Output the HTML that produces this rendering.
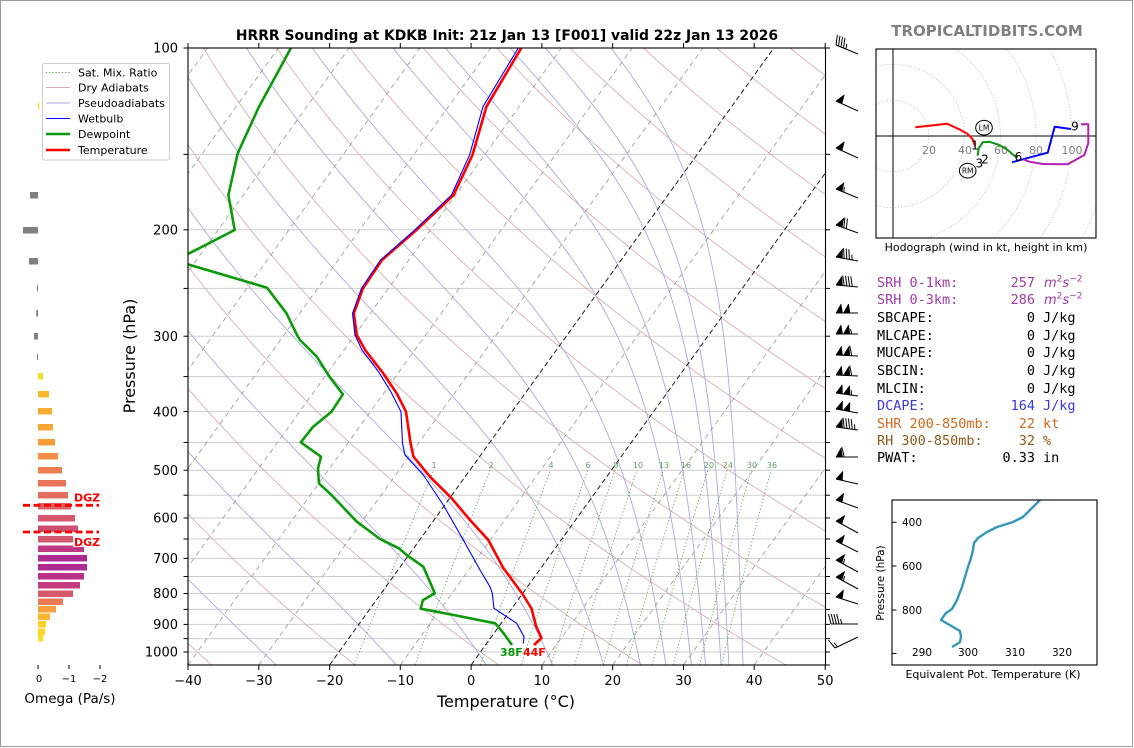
<!DOCTYPE html>
<html>
<head>
<meta charset="utf-8">
<style>
html,body{margin:0;padding:0;background:#fff;}
body{width:1134px;height:748px;overflow:hidden;}
svg{display:block;}
text{font-family:"DejaVu Sans","Liberation Sans",sans-serif;}
.mono{font-family:"DejaVu Sans Mono","Liberation Mono",monospace;font-size:13.5px;}
</style>
</head>
<body>
<svg id="fig" width="1134" height="748" viewBox="0 0 1134 748" xmlns="http://www.w3.org/2000/svg">
<defs>
  <clipPath id="cp"><rect x="188" y="48" width="637.5" height="617"/></clipPath>
  <clipPath id="hc"><rect x="876" y="49" width="220" height="189"/></clipPath>
  <clipPath id="tc"><rect x="892" y="500" width="205" height="165"/></clipPath>
</defs>
<rect x="0" y="0" width="1134" height="748" fill="#fff"/>
<rect x="0.5" y="0.5" width="1132" height="746" fill="none" stroke="#999" stroke-width="1"/>

<!-- Title -->
<text x="507" y="40" text-anchor="middle" font-size="13.9" font-weight="bold">HRRR Sounding at KDKB Init: 21z Jan 13 [F001] valid 22z Jan 13 2026</text>

<!-- Skew-T background -->
<g clip-path="url(#cp)">
  <g stroke="#cdcdcd" stroke-width="1">
    <line x1="188" x2="826" y1="154.4" y2="154.4"/>
    <line x1="188" x2="826" y1="229.8" y2="229.8"/>
    <line x1="188" x2="826" y1="288.4" y2="288.4"/>
    <line x1="188" x2="826" y1="336.2" y2="336.2"/>
    <line x1="188" x2="826" y1="376.6" y2="376.6"/>
    <line x1="188" x2="826" y1="411.6" y2="411.6"/>
    <line x1="188" x2="826" y1="442.5" y2="442.5"/>
    <line x1="188" x2="826" y1="470.2" y2="470.2"/>
    <line x1="188" x2="826" y1="495.2" y2="495.2"/>
    <line x1="188" x2="826" y1="518.0" y2="518.0"/>
    <line x1="188" x2="826" y1="539.0" y2="539.0"/>
    <line x1="188" x2="826" y1="558.4" y2="558.4"/>
    <line x1="188" x2="826" y1="576.5" y2="576.5"/>
    <line x1="188" x2="826" y1="593.5" y2="593.5"/>
    <line x1="188" x2="826" y1="609.4" y2="609.4"/>
    <line x1="188" x2="826" y1="624.4" y2="624.4"/>
    <line x1="188" x2="826" y1="638.6" y2="638.6"/>
    <line x1="188" x2="826" y1="652.0" y2="652.0"/>
  </g>
  <g id="dry"></g>
  <g id="moist"></g>
  <g id="mix"></g>
  <g id="iso"></g>

  <!-- mixing ratio labels -->
  <g font-size="8" fill="#5e9e5e" text-anchor="middle">
    <text x="434" y="468">1</text>
    <text x="491" y="468">2</text>
    <text x="551" y="468">4</text>
    <text x="588" y="468">6</text>
    <text x="616" y="468">8</text>
    <text x="638" y="468">10</text>
    <text x="664" y="468">13</text>
    <text x="686" y="468">16</text>
    <text x="709" y="468">20</text>
    <text x="728" y="468">24</text>
    <text x="752" y="468">30</text>
    <text x="772" y="468">36</text>
  </g>

  <!-- Dewpoint -->
  <polyline fill="none" stroke="#0a9a0a" stroke-width="2.6" stroke-linejoin="round"
    points="292,46 259,106.7 237.7,153.3 228.4,195 234.7,230 186,255"/>
  <polyline fill="none" stroke="#0a9a0a" stroke-width="2.6" stroke-linejoin="round"
    points="186,263.8 267,287.7 286.5,313.3 297,335 300,340 316.8,356.7 329.4,376.7 342.9,394.3 331.5,411.7 312.6,427.3 300.8,442.3 321,456.7 318,468.3 318.9,483.3 331.5,495 356.8,521.7 380,539 398.9,548.3 406.7,555 423.3,566.7 434.8,593.3 422.8,600.3 420.7,608.7 453.6,615 495.3,623.3 503.6,633.3 512,645"/>
  <!-- Temperature -->
  <polyline fill="none" stroke="#ff0000" stroke-width="2.6" stroke-linejoin="round"
    points="522.5,46 486.4,106.7 472.5,155 453.6,195 415.7,230.7 382,260 363,288.3 353.8,313.3 356.8,335 365.2,350 382,371.7 396.7,393.3 406,411.7 410.6,443.3 413.5,456.7 430,476.7 451.7,498.3 470,520 488.3,540 503,567.5 522.5,594 531.5,608.5 536,626 541.5,638 534,645"/>
  <!-- Wetbulb -->
  <polyline fill="none" stroke="#0000ff" stroke-width="1.1" stroke-linejoin="round"
    points="519.5,46 483,106.7 469.6,155 451.5,195 414,230.7 380.5,260 361.5,288.3 352.5,313.3 355,335 362,350 378,371 391,392 401,411.7 402.5,443.3 405,455 423.3,475 443.3,505 463.3,540 480,570 490,586.7 492.3,593.3 494,608.3 516.7,623.3 524,636.7 523.3,643.5"/>
</g>

<!-- Surface labels -->
<text x="500" y="656" font-size="11" font-weight="bold" fill="#0a9a0a">38F</text>
<text x="523" y="656" font-size="11" font-weight="bold" fill="#ff0000">44F</text>

<!-- Frame and ticks -->
<rect x="188" y="48" width="637.5" height="617" fill="none" stroke="#000" stroke-width="1.1"/>
<g stroke="#000" stroke-width="1">
  <line x1="183.5" x2="188" y1="48" y2="48"/>
  <line x1="183.5" x2="188" y1="154.4" y2="154.4"/>
  <line x1="183.5" x2="188" y1="229.8" y2="229.8"/>
  <line x1="183.5" x2="188" y1="288.4" y2="288.4"/>
  <line x1="183.5" x2="188" y1="336.2" y2="336.2"/>
  <line x1="183.5" x2="188" y1="376.6" y2="376.6"/>
  <line x1="183.5" x2="188" y1="411.6" y2="411.6"/>
  <line x1="183.5" x2="188" y1="442.5" y2="442.5"/>
  <line x1="183.5" x2="188" y1="470.2" y2="470.2"/>
  <line x1="183.5" x2="188" y1="495.2" y2="495.2"/>
  <line x1="183.5" x2="188" y1="518.0" y2="518.0"/>
  <line x1="183.5" x2="188" y1="539.0" y2="539.0"/>
  <line x1="183.5" x2="188" y1="558.4" y2="558.4"/>
  <line x1="183.5" x2="188" y1="576.5" y2="576.5"/>
  <line x1="183.5" x2="188" y1="593.5" y2="593.5"/>
  <line x1="183.5" x2="188" y1="609.4" y2="609.4"/>
  <line x1="183.5" x2="188" y1="624.4" y2="624.4"/>
  <line x1="183.5" x2="188" y1="638.6" y2="638.6"/>
  <line x1="183.5" x2="188" y1="652.0" y2="652.0"/>

  <line x1="825.5" x2="830" y1="48" y2="48"/>
  <line x1="825.5" x2="830" y1="154.4" y2="154.4"/>
  <line x1="825.5" x2="830" y1="229.8" y2="229.8"/>
  <line x1="825.5" x2="830" y1="288.4" y2="288.4"/>
  <line x1="825.5" x2="830" y1="336.2" y2="336.2"/>
  <line x1="825.5" x2="830" y1="376.6" y2="376.6"/>
  <line x1="825.5" x2="830" y1="411.6" y2="411.6"/>
  <line x1="825.5" x2="830" y1="442.5" y2="442.5"/>
  <line x1="825.5" x2="830" y1="470.2" y2="470.2"/>
  <line x1="825.5" x2="830" y1="495.2" y2="495.2"/>
  <line x1="825.5" x2="830" y1="518.0" y2="518.0"/>
  <line x1="825.5" x2="830" y1="539.0" y2="539.0"/>
  <line x1="825.5" x2="830" y1="558.4" y2="558.4"/>
  <line x1="825.5" x2="830" y1="576.5" y2="576.5"/>
  <line x1="825.5" x2="830" y1="593.5" y2="593.5"/>
  <line x1="825.5" x2="830" y1="609.4" y2="609.4"/>
  <line x1="825.5" x2="830" y1="624.4" y2="624.4"/>
  <line x1="825.5" x2="830" y1="638.6" y2="638.6"/>
  <line x1="825.5" x2="830" y1="652.0" y2="652.0"/>
  <line x1="825.5" x2="830" y1="665" y2="665"/>

  <line x1="188" x2="188" y1="665" y2="670"/>
  <line x1="258.8" x2="258.8" y1="665" y2="670"/>
  <line x1="329.6" x2="329.6" y1="665" y2="670"/>
  <line x1="400.3" x2="400.3" y1="665" y2="670"/>
  <line x1="471.1" x2="471.1" y1="665" y2="670"/>
  <line x1="541.9" x2="541.9" y1="665" y2="670"/>
  <line x1="612.7" x2="612.7" y1="665" y2="670"/>
  <line x1="683.5" x2="683.5" y1="665" y2="670"/>
  <line x1="754.2" x2="754.2" y1="665" y2="670"/>
  <line x1="825.2" x2="825.2" y1="665" y2="670"/>

  <line x1="188" x2="188" y1="43" y2="48"/>
  <line x1="258.8" x2="258.8" y1="43" y2="48"/>
  <line x1="329.6" x2="329.6" y1="43" y2="48"/>
  <line x1="400.3" x2="400.3" y1="43" y2="48"/>
  <line x1="471.1" x2="471.1" y1="43" y2="48"/>
  <line x1="541.9" x2="541.9" y1="43" y2="48"/>
  <line x1="612.7" x2="612.7" y1="43" y2="48"/>
  <line x1="683.5" x2="683.5" y1="43" y2="48"/>
  <line x1="754.2" x2="754.2" y1="43" y2="48"/>
  <line x1="825.2" x2="825.2" y1="43" y2="48"/>
</g>

<!-- Y tick labels -->
<g font-size="13" text-anchor="end" fill="#000">
  <text x="178" y="52.5">100</text>
  <text x="178" y="234.5">200</text>
  <text x="178" y="340.8">300</text>
  <text x="178" y="416.3">400</text>
  <text x="178" y="474.8">500</text>
  <text x="178" y="522.6">600</text>
  <text x="178" y="563">700</text>
  <text x="178" y="598">800</text>
  <text x="178" y="629">900</text>
  <text x="178" y="656.6">1000</text>
</g>
<!-- X tick labels -->
<g font-size="13" text-anchor="middle" fill="#000">
  <text x="188" y="685">−40</text>
  <text x="258.8" y="685">−30</text>
  <text x="329.6" y="685">−20</text>
  <text x="400.3" y="685">−10</text>
  <text x="471.1" y="685">0</text>
  <text x="541.9" y="685">10</text>
  <text x="612.7" y="685">20</text>
  <text x="683.5" y="685">30</text>
  <text x="754.2" y="685">40</text>
  <text x="825.2" y="685">50</text>
</g>
<text x="506" y="707" font-size="16" text-anchor="middle">Temperature (°C)</text>
<text transform="translate(135,356) rotate(-90)" font-size="16" text-anchor="middle">Pressure (hPa)</text>

<!-- Wind barbs -->
<g id="barbs"></g>

<!-- Omega panel -->
<g>
  <rect x="38" y="103" width="1.3" height="6.5" fill="#f0e020"/>
  <g fill="#808080">
    <rect x="30" y="192" width="8" height="6.5"/>
    <rect x="23" y="227" width="15" height="6.5"/>
    <rect x="29" y="258" width="9" height="6.5"/>
    <rect x="37" y="285" width="1" height="6.5"/>
    <rect x="36.3" y="310" width="1.7" height="6.5"/>
    <rect x="34" y="333" width="4" height="6.5"/>
    <rect x="37" y="354" width="1" height="6"/>
  </g>
  <rect x="38" y="373" width="5" height="6.5" fill="#f9dc24"/>
  <rect x="38" y="391" width="11" height="6.5" fill="#fcb72e"/>
  <rect x="38" y="408" width="14" height="6.5" fill="#fbac33"/>
  <rect x="38" y="424" width="15" height="6.5" fill="#faa637"/>
  <rect x="38" y="439" width="17" height="6.5" fill="#f99c3b"/>
  <rect x="38" y="453" width="20" height="6.5" fill="#f48f44"/>
  <rect x="38" y="467" width="24" height="6.5" fill="#ee7f4f"/>
  <rect x="38" y="480" width="28" height="6.5" fill="#e8735a"/>
  <rect x="38" y="492" width="30" height="6.5" fill="#e26c5f"/>
  <rect x="38" y="503" width="33" height="6.5" fill="#dd6366"/>
  <rect x="38" y="515" width="37" height="6.5" fill="#d6566d"/>
  <rect x="38" y="525.5" width="40" height="6.5" fill="#cf4f73"/>
  <rect x="38" y="536" width="36" height="6.5" fill="#d25970"/>
  <rect x="38" y="545.5" width="46" height="6.5" fill="#be3885"/>
  <rect x="38" y="555" width="49" height="6.5" fill="#ad2a92"/>
  <rect x="38" y="564" width="49" height="6.5" fill="#ad2a92"/>
  <rect x="38" y="573" width="46" height="6.5" fill="#b83289"/>
  <rect x="38" y="582" width="42" height="6.5" fill="#c43e7f"/>
  <rect x="38" y="590.5" width="35" height="6.5" fill="#d55a6c"/>
  <rect x="38" y="598.5" width="25" height="6.5" fill="#ec7a52"/>
  <rect x="38" y="606" width="18" height="6.5" fill="#f6a03e"/>
  <rect x="38" y="613.5" width="12" height="6.5" fill="#fbb630"/>
  <rect x="38" y="621" width="8" height="6.5" fill="#fccf26"/>
  <rect x="38" y="628.5" width="7" height="6.5" fill="#fbd624"/>
  <rect x="38" y="635" width="5" height="6.5" fill="#f8df22"/>

  <line x1="23" x2="99" y1="505.3" y2="505.3" stroke="#ff0000" stroke-width="2.8" stroke-dasharray="7,3.5"/>
  <line x1="23" x2="99" y1="532" y2="532" stroke="#ff0000" stroke-width="2.8" stroke-dasharray="7,3.5"/>
  <rect x="73" y="491" width="27" height="11.5" fill="#fff" opacity="0.85"/>
  <rect x="73" y="535.5" width="27" height="11.5" fill="#fff" opacity="0.85"/>
  <text x="74" y="501.5" font-size="11" font-weight="bold" fill="#ff0000">DGZ</text>
  <text x="74" y="545.8" font-size="11" font-weight="bold" fill="#ff0000">DGZ</text>

  <g stroke="#000" stroke-width="1">
    <line x1="38" x2="38" y1="665" y2="669"/>
    <line x1="69" x2="69" y1="665" y2="669"/>
    <line x1="100" x2="100" y1="665" y2="669"/>
  </g>
  <g font-size="10" text-anchor="middle">
    <text x="39" y="682">0</text>
    <text x="69" y="682">−1</text>
    <text x="100" y="682">−2</text>
  </g>
  <text x="70" y="703" font-size="13.5" text-anchor="middle">Omega (Pa/s)</text>
</g>

<!-- Legend -->
<g>
  <rect x="42.5" y="63.5" width="127" height="96.5" rx="2" fill="#fff" fill-opacity="0.85" stroke="#cccccc" stroke-width="1"/>
  <line x1="46" x2="70" y1="72.5" y2="72.5" stroke="#4fa04f" stroke-width="1" stroke-dasharray="1.2,2"/>
  <line x1="46" x2="70" y1="87.5" y2="87.5" stroke="#dcaaaa" stroke-width="1"/>
  <line x1="46" x2="70" y1="103" y2="103" stroke="#aaaadf" stroke-width="1"/>
  <line x1="46" x2="70" y1="118.5" y2="118.5" stroke="#0000ff" stroke-width="1"/>
  <line x1="46" x2="70" y1="134" y2="134" stroke="#0a9a0a" stroke-width="2.5"/>
  <line x1="46" x2="70" y1="150" y2="150" stroke="#ff0000" stroke-width="2.5"/>
  <g font-size="11" fill="#000">
    <text x="78" y="76.5">Sat. Mix. Ratio</text>
    <text x="78" y="91.5">Dry Adiabats</text>
    <text x="78" y="107">Pseudoadiabats</text>
    <text x="78" y="122.5">Wetbulb</text>
    <text x="78" y="138">Dewpoint</text>
    <text x="78" y="154">Temperature</text>
  </g>
</g>

<!-- Hodograph -->
<text x="987" y="36" font-size="15" font-weight="bold" fill="#808080" text-anchor="middle">TROPICALTIDBITS.COM</text>
<g clip-path="url(#hc)">
  <g fill="none" stroke="#b8b8b8" stroke-width="0.8" stroke-dasharray="1,1.8">
    <circle cx="893" cy="136" r="35.8"/>
    <circle cx="893" cy="136" r="71.6"/>
    <circle cx="893" cy="136" r="107.4"/>
    <circle cx="893" cy="136" r="143.2"/>
    <circle cx="893" cy="136" r="179"/>
    <circle cx="893" cy="136" r="214.8"/>
  </g>
  <line x1="893" x2="893" y1="49" y2="238" stroke="#000" stroke-width="1"/>
  <line x1="876" x2="1096" y1="136" y2="136" stroke="#000" stroke-width="1"/>
  <g font-size="11" fill="#808080" text-anchor="middle">
    <text x="929" y="154">20</text>
    <text x="965" y="154">40</text>
    <text x="1001" y="154">60</text>
    <text x="1036" y="154">80</text>
    <text x="1072" y="154">100</text>
  </g>
  <polyline fill="none" stroke="#ff0000" stroke-width="2" stroke-linejoin="round" points="915.3,127.3 947,123.7 959.3,129.3 967.7,134 972.7,139.3 975,146"/>
  <polyline fill="none" stroke="#0f930f" stroke-width="2" stroke-linejoin="round" points="977.7,155.7 978.7,148.3 982.7,142.3 989.3,141.7 999.3,145 1007.7,150 1014.3,155.7 1017.7,157.3"/>
  <polyline fill="none" stroke="#0000ff" stroke-width="2" stroke-linejoin="round" points="1012,162.3 1022.7,159.3 1047.7,152.7 1054.7,126.7 1071,129"/>
  <polyline fill="none" stroke="#b51fb8" stroke-width="2" stroke-linejoin="round" points="1023.3,159.3 1029.3,161.7 1042.7,164 1067.7,164.3 1084.3,155 1088.3,143.3 1088.3,124.3 1081,124.3"/>
  <g font-size="12" fill="#000" text-anchor="middle">
    <text x="975" y="149.5">1</text>
    <text x="979.3" y="167.5">3</text>
    <text x="985" y="163.5">2</text>
    <text x="1018.3" y="161">6</text>
    <text x="1075" y="130.5">9</text>
  </g>
  <ellipse cx="984" cy="127.7" rx="8.3" ry="7.3" fill="#fff" stroke="#000" stroke-width="1"/>
  <text x="984" y="130.5" font-size="7.5" text-anchor="middle">LM</text>
  <ellipse cx="967.7" cy="170.7" rx="8.3" ry="7.3" fill="#fff" stroke="#000" stroke-width="1"/>
  <text x="967.7" y="173.5" font-size="7.5" text-anchor="middle">RM</text>
</g>
<rect x="876" y="49" width="220" height="189" fill="none" stroke="#000" stroke-width="1.1"/>
<text x="986" y="251" font-size="11" text-anchor="middle">Hodograph (wind in kt, height in km)</text>

<!-- Stats text -->
<g class="mono">
  <text class="mono" x="877" y="287" fill="#a03ca3">SRH 0-1km:</text>
  <text class="mono" x="1035" y="287" fill="#a03ca3" text-anchor="end">257</text>
  <text x="1044" y="287" fill="#a03ca3" font-size="13" font-style="italic">m<tspan dy="-5.5" font-size="9" font-style="normal">2</tspan><tspan dy="5.5">s</tspan><tspan dy="-5.5" font-size="9" font-style="normal">−2</tspan></text>

  <text class="mono" x="877" y="304" fill="#a03ca3">SRH 0-3km:</text>
  <text class="mono" x="1035" y="304" fill="#a03ca3" text-anchor="end">286</text>
  <text x="1044" y="304" fill="#a03ca3" font-size="13" font-style="italic">m<tspan dy="-5.5" font-size="9" font-style="normal">2</tspan><tspan dy="5.5">s</tspan><tspan dy="-5.5" font-size="9" font-style="normal">−2</tspan></text>

  <text class="mono" x="877" y="322">SBCAPE:</text>
  <text class="mono" x="1035" y="322" text-anchor="end">0</text>
  <text class="mono" x="1043" y="322">J/kg</text>

  <text class="mono" x="877" y="340">MLCAPE:</text>
  <text class="mono" x="1035" y="340" text-anchor="end">0</text>
  <text class="mono" x="1043" y="340">J/kg</text>

  <text class="mono" x="877" y="357">MUCAPE:</text>
  <text class="mono" x="1035" y="357" text-anchor="end">0</text>
  <text class="mono" x="1043" y="357">J/kg</text>

  <text class="mono" x="877" y="375">SBCIN:</text>
  <text class="mono" x="1035" y="375" text-anchor="end">0</text>
  <text class="mono" x="1043" y="375">J/kg</text>

  <text class="mono" x="877" y="393">MLCIN:</text>
  <text class="mono" x="1035" y="393" text-anchor="end">0</text>
  <text class="mono" x="1043" y="393">J/kg</text>

  <text class="mono" x="877" y="410" fill="#3a3ad8">DCAPE:</text>
  <text class="mono" x="1035" y="410" fill="#3a3ad8" text-anchor="end">164</text>
  <text class="mono" x="1043" y="410" fill="#3a3ad8">J/kg</text>

  <text class="mono" x="877" y="428" fill="#d2691e">SHR 200-850mb:</text>
  <text class="mono" x="1035" y="428" fill="#d2691e" text-anchor="end">22</text>
  <text class="mono" x="1043" y="428" fill="#d2691e">kt</text>

  <text class="mono" x="877" y="445" fill="#8b5a1a">RH 300-850mb:</text>
  <text class="mono" x="1035" y="445" fill="#8b5a1a" text-anchor="end">32</text>
  <text class="mono" x="1043" y="445" fill="#8b5a1a">%</text>

  <text class="mono" x="877" y="462">PWAT:</text>
  <text class="mono" x="1035" y="462" text-anchor="end">0.33</text>
  <text class="mono" x="1043" y="462">in</text>
</g>

<!-- Theta-e panel -->
<g clip-path="url(#tc)">
  <polyline fill="none" stroke="#3497b5" stroke-width="2.4" stroke-linejoin="round"
    points="1043,497 1039,501 1030,510 1023,517 1013,522 997,527 987,532 978,538 974,543 973,550 971,558 967,570 962,587 957,600 952,609 946,613 941,620 960,631 961,637 960,642 957,644 952,647"/>
</g>
<rect x="892" y="500" width="205" height="165" fill="none" stroke="#000" stroke-width="1.1"/>
<g stroke="#000" stroke-width="1">
  <line x1="892" x2="896.5" y1="522.3" y2="522.3"/>
  <line x1="892" x2="896.5" y1="566" y2="566"/>
  <line x1="892" x2="896.5" y1="610" y2="610"/>
  <line x1="892" x2="896.5" y1="653.5" y2="653.5"/>
</g>
<g font-size="10.5" text-anchor="end">
  <text x="922" y="526">400</text>
  <text x="922" y="570">600</text>
  <text x="922" y="614">800</text>
</g>
<g font-size="10.5" text-anchor="middle">
  <text x="922" y="656">290</text>
  <text x="968" y="656">300</text>
  <text x="1015" y="656">310</text>
  <text x="1062" y="656">320</text>
</g>
<text transform="translate(884,583) rotate(-90)" font-size="10.5" text-anchor="middle">Pressure (hPa)</text>
<text x="993" y="678" font-size="11" text-anchor="middle">Equivalent Pot. Temperature (K)</text>
</svg>

<script>
(function(){
var NS='http://www.w3.org/2000/svg';
function yP(p){return 48+604*Math.log(p/100)/Math.LN10;}
function xT(T,p){return 188+(T+40)*7.078+(665-yP(p))*0.72;}
function add(parent,tag,attrs){var e=document.createElementNS(NS,tag);for(var k in attrs){e.setAttribute(k,attrs[k]);}parent.appendChild(e);return e;}
function pl(parent,pts,attrs){var d='';for(var i=0;i<pts.length;i++){d+=(i?'L':'M')+pts[i][0].toFixed(2)+' '+pts[i][1].toFixed(2);}attrs.d=d;attrs.fill='none';return add(parent,'path',attrs);}
var iso=document.getElementById('iso'),dry=document.getElementById('dry'),moist=document.getElementById('moist'),mix=document.getElementById('mix');
// isotherms
for(var T=-130;T<=50;T+=10){
  var black=(T===-20||T===0);
  pl(iso,[[xT(T,1050),yP(1050)],[xT(T,100),yP(100)]],{stroke:black?'#1a1a1a':'#a0a0a0','stroke-width':black?1:0.9,'stroke-dasharray':black?'5,3':'5,4'});
}
var ps=[];for(var p=1050;p>=100;p-=5)ps.push(p);
// dry adiabats
for(var th=-40;th<=260;th+=20){
  var pts=[],thK=th+273.15;
  for(var i=0;i<ps.length;i++){var t=thK*Math.pow(ps[i]/1000,0.2857)-273.15;pts.push([xT(t,ps[i]),yP(ps[i])]);}
  pl(dry,pts,{stroke:'#dcaaaa','stroke-width':0.85});
}
// moist adiabats
function es(Tc){return 6.112*Math.exp(17.67*Tc/(Tc+243.5));}
function dTdp(p,T){var e=es(T-273.15);var rs=0.622*e/Math.max(p-e,1);var Rd=287.04,Cp=1005.7,Lv=2.501e6;return (1/p)*(Rd*T+Lv*rs)/(Cp+Lv*Lv*rs*0.622/(Rd*T*T));}
var starts=[-27.6,-10.6,2.1,11.5,18.7,23.9,27.5,31.1,33.1,35.3,36.4,38.4];
for(var s=0;s<starts.length;s++){
  var t0=starts[s],TT=t0+273.15,pp=1050,h=-2,pts2=[[xT(t0,pp),yP(pp)]];
  while(pp>100){
    var k1=dTdp(pp,TT),k2=dTdp(pp+h/2,TT+h/2*k1),k3=dTdp(pp+h/2,TT+h/2*k2),k4=dTdp(pp+h,TT+h*k3);
    TT+=h/6*(k1+2*k2+2*k3+k4);pp+=h;
    pts2.push([xT(TT-273.15,pp),yP(pp)]);
  }
  pl(moist,pts2,{stroke:'#aaaadf','stroke-width':0.9});
}
// mixing ratio lines
var ws=[1,2,4,6,8,10,13,16,20,24,30,36];
for(var j=0;j<ws.length;j++){
  var w=ws[j],pts3=[];
  for(var q=1050;q>=500;q-=10){var e=w*q/(622+w);var l=Math.log(e/6.112);var td=243.5*l/(17.67-l);pts3.push([xT(td,q),yP(q)]);}
  pl(mix,pts3,{stroke:'#52a352','stroke-width':0.9,'stroke-dasharray':'1.2,2.2'});
}
// wind barbs
var bg=document.getElementById('barbs');
function barb(tx,ty,bx,by,nf,nb,nh){
  var dx=tx-bx,dy=ty-by,L=Math.sqrt(dx*dx+dy*dy),ux=dx/L,uy=dy/L,nx=-uy,ny=ux;
  add(bg,'line',{x1:bx,y1:by,x2:tx,y2:ty,stroke:'#000','stroke-width':1});
  var s=0,fw=6.5,fh=9,bl=10,sp=2.7;
  for(var i=0;i<nf;i++){
    var p1=[tx-ux*s,ty-uy*s],p2=[tx-ux*(s+fw),ty-uy*(s+fw)],ap=[p2[0]+nx*fh+ux*1.5,p2[1]+ny*fh+uy*1.5];
    add(bg,'polygon',{points:p1[0]+','+p1[1]+' '+p2[0]+','+p2[1]+' '+ap[0]+','+ap[1],fill:'#000',stroke:'#000','stroke-width':0.6,'stroke-linejoin':'round'});
    s+=fw+1;
  }
  if(nf>0&&(nb+nh)>0)s+=0.8;
  for(var i=0;i<nb;i++){
    var b=[tx-ux*s,ty-uy*s];
    add(bg,'line',{x1:b[0],y1:b[1],x2:b[0]+nx*bl+ux*2.5,y2:b[1]+ny*bl+uy*2.5,stroke:'#000','stroke-width':1});
    s+=sp;
  }
  for(var i=0;i<nh;i++){
    if(nb===0&&nf===0)s+=sp;
    var c=[tx-ux*s,ty-uy*s];
    add(bg,'line',{x1:c[0],y1:c[1],x2:c[0]+nx*bl*0.5+ux*1.25,y2:c[1]+ny*bl*0.5+uy*1.25,stroke:'#000','stroke-width':1});
    s+=sp;
  }
}
var B=[
 [836,45,858,54,0,4,1],
 [836,101,858,111,1,0,0],
 [836,148,858,158,1,0,0],
 [836,189,858,198,1,0,1],
 [836,225,858,233,1,2,0],
 [836,257,858,261,1,3,1],
 [836,285,858,287,1,4,0],
 [836,313,858,313,2,0,0],
 [836,334,858,334,2,0,1],
 [836,355,858,356,2,1,0],
 [836,375,858,376,2,1,0],
 [836,393,858,396,2,0,1],
 [836,409,858,413,2,0,0],
 [836,427,858,430,1,4,1],
 [836,457,858,457,1,1,0],
 [836,479,858,484,1,0,0],
 [836,500,858,508,1,0,0],
 [836,521,858,533,1,0,0],
 [836,541,858,552,1,0,0],
 [836,560,858,572,1,0,1],
 [836,577,858,589,1,0,1],
 [836,597,858,604,1,0,0],
 [831,624,858,624,0,4,1],
 [835,648,858,637,0,1,1]
];
for(var k=0;k<B.length;k++){var r=B[k];barb(r[0],r[1],r[2],r[3],r[4],r[5],r[6]);}
})();
</script>
</body>
</html>
